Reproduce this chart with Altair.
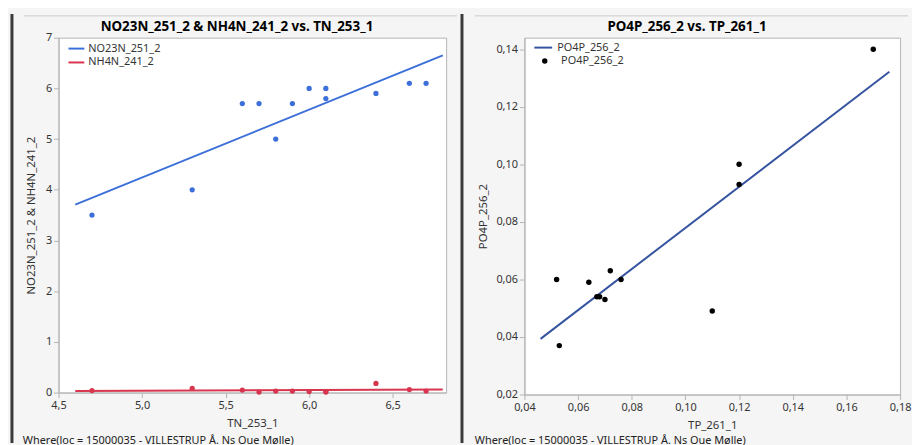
import altair as alt
import pandas as pd

# ---------------- data ----------------
tn = [4.7, 5.3, 5.6, 5.7, 5.8, 5.9, 6.0, 6.1, 6.1, 6.4, 6.6, 6.7]
no23n = [3.5, 4.0, 5.7, 5.7, 5.0, 5.7, 6.0, 6.0, 5.8, 5.9, 6.1, 6.1]
nh4n = [0.04, 0.08, 0.05, 0.01, 0.03, 0.03, 0.02, 0.02, 0.01, 0.18, 0.06, 0.03]
left_series = ["NO23N_251_2", "NH4N_241_2"]

tp = [0.170, 0.120, 0.120, 0.052, 0.053, 0.064, 0.067, 0.068, 0.070, 0.072, 0.076, 0.110]
po4p = [0.140, 0.100, 0.093, 0.060, 0.037, 0.059, 0.054, 0.054, 0.053, 0.063, 0.060, 0.049]
right_series = "PO4P_256_2"

left_x_ticks = [4.5, 5.0, 5.5, 6.0, 6.5]
left_y_ticks = [0, 1, 2, 3, 4, 5, 6, 7]
right_x_ticks = [0.04, 0.06, 0.08, 0.10, 0.12, 0.14, 0.16, 0.18]
right_y_ticks = [0.02, 0.04, 0.06, 0.08, 0.10, 0.12, 0.14]

left_title = "NO23N_251_2 & NH4N_241_2 vs. TN_253_1"
right_title = "PO4P_256_2 vs. TP_261_1"
note = "Where(loc = 15000035 - VILLESTRUP Å. Ns Oue Mølle)"

# ---------------- styling ----------------
FONT = "Noto Sans"
BLUE = "#3d6fd9"
RED = "#d8364f"
NAVY = "#3653a0"
GREY = "#b4b4b4"
DARK = "#3a3a3a"
TXT = "#333333"

LW, LH = 391, 358
RW, RH = 379, 360


def num_axis(title, values, fmt, title_pad):
    return alt.Axis(
        title=title, values=values,
        labelExpr=f"replace(format(datum.value, '{fmt}'), '.', ',')",
        grid=False, tickSize=5, labelPadding=2, labelFlush=False,
        domainColor=GREY, tickColor=GREY, labelColor=TXT, titleColor=TXT,
        labelFontSize=11, titleFontSize=11.5, labelFont=FONT, titleFont=FONT,
        titleFontWeight="normal", titlePadding=title_pad,
    )


def legend(x, y, **kw):
    base = dict(orient="none", legendX=x, legendY=y, title=None, padding=0,
                labelFont=FONT, labelFontSize=11, labelColor=TXT, rowPadding=0)
    base.update(kw)
    return alt.Legend(**base)


frame_df = pd.DataFrame({"k": [0]})


def decorations(dark_x, hx1, hx2, bottom, note_x, title, title_x):
    dark = alt.Chart(frame_df).mark_rule(color=DARK, strokeWidth=3).encode(
        x=alt.value(dark_x), y=alt.value(-24), y2=alt.value(bottom))
    top = alt.Chart(frame_df).mark_rule(color="#c8c8c8", strokeWidth=1).encode(
        x=alt.value(hx1), x2=alt.value(hx2), y=alt.value(-22))
    txt = alt.Chart(pd.DataFrame({"note": [note]})).mark_text(
        align="left", baseline="alphabetic", font=FONT, fontSize=11, color="#222222"
    ).encode(text="note:N", x=alt.value(note_x), y=alt.value(bottom + 1))
    ttl = alt.Chart(pd.DataFrame({"t": [title]})).mark_text(
        align="center", baseline="middle", font=FONT, fontSize=13.5,
        fontWeight="bold", color="black"
    ).encode(text="t:N", x=alt.value(title_x), y=alt.value(-11))
    return [dark, top, txt, ttl]


# ---------------- left panel ----------------
left_df = pd.DataFrame({
    "TN": tn + tn,
    "value": no23n + nh4n,
    "series": [left_series[0]] * len(tn) + [left_series[1]] * len(tn),
})

lx = alt.X("TN:Q", scale=alt.Scale(domain=[4.5, 6.82], nice=False, zero=False),
           axis=num_axis("TN_253_1", left_x_ticks, ".1f", 7))
ly = alt.Y("value:Q", scale=alt.Scale(domain=[0, 7], nice=False),
           axis=num_axis("NO23N_251_2 & NH4N_241_2", left_y_ticks, "d", 9))
lcolor_scale = alt.Scale(domain=left_series, range=[BLUE, RED])

left_base = alt.Chart(left_df)
left_pts = left_base.mark_circle(size=28, opacity=1).encode(
    x=lx, y=ly, color=alt.Color("series:N", scale=lcolor_scale, legend=None))
left_fit = left_base.transform_regression(
    "TN", "value", groupby=["series"], extent=[4.6, 6.8]
).mark_line(strokeWidth=2).encode(
    x=lx, y=ly,
    color=alt.Color("series:N", scale=lcolor_scale, legend=legend(
        9, 2, symbolType="stroke", symbolSize=256, symbolStrokeWidth=2, labelOffset=3)),
)

left = alt.layer(
    left_fit, left_pts, *decorations(-47, -35, 402, 409, -36, left_title, 180)
).properties(width=LW, height=LH)

# ---------------- right panel ----------------
right_df = pd.DataFrame({"TP": tp, "PO4P": po4p, "lab": [right_series] * len(tp)})

rx = alt.X("TP:Q", scale=alt.Scale(domain=[0.04, 0.18], nice=False, zero=False),
           axis=num_axis("TP_261_1", right_x_ticks, ".2f", 7))
ry = alt.Y("PO4P:Q", scale=alt.Scale(domain=[0.02, 0.144], nice=False, zero=False),
           axis=num_axis("PO4P_256_2", right_y_ticks, ".2f", 7))

right_base = alt.Chart(right_df)
right_fit = right_base.transform_regression(
    "TP", "PO4P", extent=[0.046, 0.176]
).transform_calculate(lab2=f"'{right_series}'").mark_line(strokeWidth=2).encode(
    x=rx, y=ry,
    color=alt.Color("lab2:N", scale=alt.Scale(domain=[right_series], range=[NAVY]),
                    legend=legend(9, 0, symbolType="stroke", symbolSize=324,
                                  symbolStrokeWidth=2, labelOffset=4)),
)
right_pts = right_base.mark_point(filled=True, size=30, opacity=1, color="black").encode(
    x=rx, y=ry,
    shape=alt.Shape("lab:N", scale=alt.Scale(domain=[right_series], range=["circle"]),
                    legend=legend(15, 18, symbolSize=30, symbolFillColor="black",
                                  symbolStrokeColor="black", labelOffset=11)),
)

right = alt.layer(
    right_fit, right_pts, *decorations(-63, -50, 387, 409, -50, right_title, 164)
).resolve_legend(color="independent", shape="independent").properties(
    width=RW, height=RH)

chart = alt.hconcat(left, right, spacing=79, bounds="flush").resolve_scale(
    color="independent", shape="independent"
).resolve_legend(color="independent", shape="independent").properties(
    padding={"left": 2, "top": 2, "right": 0, "bottom": 0},
    background="#f5f5f5",
).configure_view(stroke=GREY, fill="white")

chart.save("out.html", embed_options={"renderer": "svg", "actions": False})
